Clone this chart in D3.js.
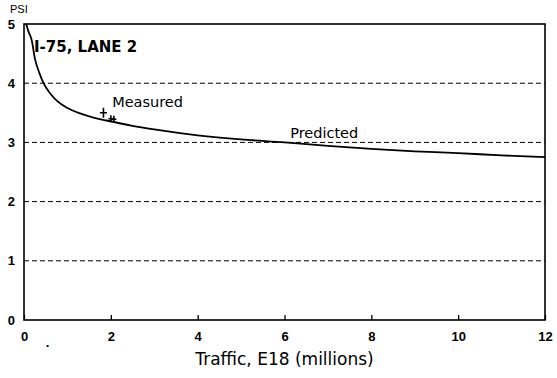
<!DOCTYPE html>
<html>
<head>
<meta charset="utf-8">
<script src="https://cdn.jsdelivr.net/npm/d3@7"></script>
<style>
    body { margin: 0; background: #fff; }
    svg text { font-family: "Liberation Sans", Arial, sans-serif; fill: #000; }
    svg text.lbl { font-family: "DejaVu Sans", sans-serif; }
</style>
</head>
<body>
<div id="chart"></div>
<script>

    // predicted PSI curve (traffic in millions of E18)
    var predX = [0.05, 0.1, 0.18, 0.25, 0.35, 0.45, 0.6, 0.76, 1.0, 1.29, 1.6, 1.9, 2.5, 3, 4, 5, 6, 7, 8, 9, 10, 11, 12];
    var predY = [5.0, 4.88, 4.72, 4.42, 4.18, 4.0, 3.83, 3.7, 3.58, 3.49, 3.42, 3.37, 3.28, 3.22, 3.12, 3.05, 3.0, 2.94, 2.89, 2.85, 2.82, 2.78, 2.75];

    // measured points
    var measX = [1.83, 2.0, 2.07];
    var measY = [3.5, 3.4, 3.39];

    var xTicks = [0, 2, 4, 6, 8, 10, 12];
    var yTicks = [0, 1, 2, 3, 4, 5];
    var gridVals = [1, 2, 3, 4];

    var margin = {top: 24, right: 12, bottom: 58, left: 24},
        width = 557 - margin.left - margin.right,
        height = 378 - margin.top - margin.bottom;

    var svg = d3.select("#chart")
        .append("svg")
        .attr("width", 557)
        .attr("height", 378)
        .append("g")
        .attr("transform", "translate(" + margin.left + "," + margin.top + ")");

    var x = d3.scaleLinear().domain([0, 12]).range([0, width]);
    var y = d3.scaleLinear().domain([0, 5]).range([height, 0]);

    // dashed grid lines
    svg.append("g")
        .selectAll("line.grid")
        .data(gridVals)
        .enter()
        .append("line")
        .attr("x1", 0)
        .attr("x2", width)
        .attr("y1", function (d) { return y(d); })
        .attr("y2", function (d) { return y(d); })
        .style("stroke", "#000")
        .style("stroke-width", 1)
        .style("stroke-dasharray", "5,3");

    // frame
    svg.append("rect")
        .attr("width", width)
        .attr("height", height)
        .style("fill", "none")
        .style("stroke", "#000")
        .style("stroke-width", 1.6);

    // X axis (ticks pointing inward, labels below)
    var xAxis = svg.append("g")
        .attr("transform", "translate(0," + height + ")")
        .call(d3.axisBottom(x).tickValues(xTicks).tickFormat(d3.format("d")).tickSize(-5).tickPadding(12));
    xAxis.select(".domain").remove();
    xAxis.selectAll("text")
        .style("font-size", "13px")
        .style("font-weight", "bold");
    xAxis.selectAll("line").style("stroke-width", 1.3);

    // Y axis
    var yAxis = svg.append("g")
        .call(d3.axisLeft(y).tickValues(yTicks).tickFormat(d3.format("d")).tickSize(0).tickPadding(9));
    yAxis.select(".domain").remove();
    yAxis.selectAll("text")
        .style("font-size", "13px")
        .style("font-weight", "bold");

    // predicted curve
    var line = d3.line()
        .x(function (d) { return x(d[0]); })
        .y(function (d) { return y(d[1]); })
        .curve(d3.curveMonotoneX);

    svg.append("path")
        .datum(d3.zip(predX, predY))
        .attr("d", line)
        .style("fill", "none")
        .style("stroke", "#000")
        .style("stroke-width", 1.8);

    // measured points as crosses
    var meas = d3.zip(measX, measY);
    var sizes = [5, 3.5, 3.5];
    svg.append("g")
        .selectAll("path.meas")
        .data(meas)
        .enter()
        .append("path")
        .attr("d", function (d, i) {
            var cx = x(d[0]), cy = y(d[1]), s = sizes[i];
            return "M" + (cx - s * 0.7) + "," + cy + "H" + (cx + s * 0.7) +
                   "M" + cx + "," + (cy - s) + "V" + (cy + s);
        })
        .style("stroke", "#000")
        .style("stroke-width", 1.6);

    // labels
    svg.append("text")
        .attr("x", -14)
        .attr("y", -11)
        .style("font-size", "11px")
        .text("PSI");

    svg.append("text")
        .attr("class", "lbl")
        .attr("x", 10)
        .attr("y", 28)
        .style("font-size", "15px")
        .style("font-weight", "bold")
        .text("I-75, LANE 2");

    svg.append("text")
        .attr("class", "lbl")
        .attr("x", x(2.03))
        .attr("y", y(3.6))
        .style("font-size", "14.5px")
        .text("Measured");

    svg.append("text")
        .attr("class", "lbl")
        .attr("x", x(6.13))
        .attr("y", y(3.08))
        .style("font-size", "14.5px")
        .text("Predicted");

    svg.append("text")
        .attr("x", x(0.5))
        .attr("y", height + 27)
        .style("font-size", "13px")
        .style("font-weight", "bold")
        .text(".");

    svg.append("text")
        .attr("class", "lbl")
        .attr("x", x(6.0))
        .attr("y", height + 45)
        .style("text-anchor", "middle")
        .style("font-size", "17px")
        .text("Traffic, E18 (millions)");

</script>
</body>
</html>
